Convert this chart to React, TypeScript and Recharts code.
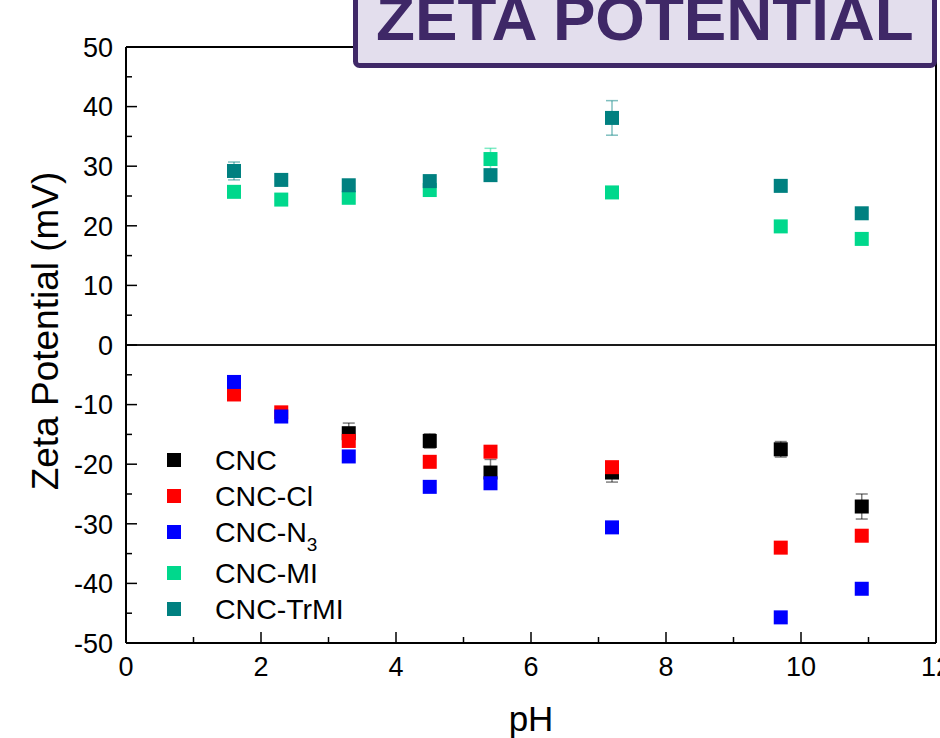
import React from "react";
import { ScatterChart, Scatter, XAxis, YAxis, ErrorBar, ReferenceLine } from "recharts";

// pH values for each sample
const phAll = [1.6, 2.3, 3.3, 4.5, 5.4, 7.2, 9.7, 10.9];
const phCnc = [3.3, 4.5, 5.4, 7.2, 9.7, 10.9];

// zeta potential (mV) and standard deviation
const cnc = [-14.8, -16.1, -21.4, -21.4, -17.5, -27.1];
const cncErr = [1.7, 1.2, 2.2, 1.6, 1.3, 2.1];
const cncCl = [-8.3, -11.3, -16.1, -19.6, -17.9, -20.5, -34.0, -32.0];
const cncN3 = [-6.2, -12.0, -18.7, -23.8, -23.2, -30.6, -45.7, -40.9];
const cncMI = [25.7, 24.4, 24.7, 26.0, 31.2, 25.6, 19.9, 17.8];
const cncMIErr = [null, null, null, null, 1.8, null, null, null];
const cncTrMI = [29.2, 27.7, 26.8, 27.5, 28.5, 38.1, 26.7, 22.1];
const cncTrMIErr = [1.5, null, null, null, null, 2.9, null, null];

const xTicks = [0, 1, 2, 3, 4, 5, 6, 7, 8, 9, 10, 11, 12];
const yTicks = [-50, -45, -40, -35, -30, -25, -20, -15, -10, -5, 0, 5, 10, 15, 20, 25, 30, 35, 40, 45, 50];

const FONT = "'Liberation Sans', Arial, sans-serif";
const MARKER = 14;

type Row = { x: number; y: number; e: number | null };

function rows(xs: number[], ys: number[], errs?: (number | null)[]): Row[] {
  return xs.map((x, i) => ({ x, y: ys[i], e: errs ? errs[i] : null }));
}

const series = [
  { key: "CNC", label: "CNC", color: "#000000", data: rows(phCnc, cnc, cncErr) },
  { key: "CNC-Cl", label: "CNC-Cl", color: "#ff0000", data: rows(phAll, cncCl) },
  { key: "CNC-N3", label: "CNC-N", sub: "3", color: "#0000ff", data: rows(phAll, cncN3) },
  { key: "CNC-MI", label: "CNC-MI", color: "#00d88c", data: rows(phAll, cncMI, cncMIErr) },
  { key: "CNC-TrMI", label: "CNC-TrMI", color: "#008080", data: rows(phAll, cncTrMI, cncTrMIErr) },
];

function BottomTick({ x, y, payload }: any) {
  const major = payload.value % 2 === 0;
  return (
    <g>
      <line x1={x} x2={x} y1={y} y2={y - (major ? 11 : 6)} stroke="#000" strokeWidth={1.5} />
      {major && (
        <text x={x} y={y + 33} textAnchor="middle" fontSize={27} fontFamily={FONT} fill="#000">
          {payload.value}
        </text>
      )}
    </g>
  );
}

function LeftTick({ x, y, payload }: any) {
  const major = payload.value % 10 === 0;
  return (
    <g>
      <line x1={x} x2={x + (major ? 11 : 6)} y1={y} y2={y} stroke="#000" strokeWidth={1.5} />
      {major && (
        <text x={x - 13} y={y} dy="0.36em" textAnchor="end" fontSize={27} fontFamily={FONT} fill="#000">
          {payload.value}
        </text>
      )}
    </g>
  );
}

function RightTick({ x, y, payload }: any) {
  const major = payload.value % 10 === 0;
  return <line x1={x} x2={x - (major ? 11 : 6)} y1={y} y2={y} stroke="#000" strokeWidth={1.5} />;
}

function squareShape(color: string) {
  return (p: any) => (
    <rect x={p.cx - MARKER / 2} y={p.cy - MARKER / 2} width={MARKER} height={MARKER} fill={color} />
  );
}

export default function App() {
  return (
    <div
      style={{
        position: "absolute",
        left: 0,
        top: 0,
        width: 940,
        height: 738,
        overflow: "hidden",
        background: "#fff",
        fontFamily: FONT,
      }}
    >
      <ScatterChart width={940} height={738} margin={{ top: 47, right: 0, bottom: 0, left: 0 }}>
        <XAxis
          type="number"
          dataKey="x"
          domain={[0, 12]}
          ticks={xTicks}
          interval={0}
          height={95}
          tickSize={0}
          tickMargin={0}
          tick={<BottomTick />}
          axisLine={{ stroke: "#000", strokeWidth: 2 }}
          tickLine={false}
        />
        <YAxis
          yAxisId="left"
          type="number"
          dataKey="y"
          domain={[-50, 50]}
          ticks={yTicks}
          interval={0}
          width={126}
          tickSize={0}
          tickMargin={0}
          tick={<LeftTick />}
          axisLine={{ stroke: "#000", strokeWidth: 2 }}
          tickLine={false}
        />
        <YAxis
          yAxisId="right"
          orientation="right"
          type="number"
          domain={[-50, 50]}
          ticks={yTicks}
          interval={0}
          width={4}
          tickSize={0}
          tickMargin={0}
          tick={<RightTick />}
          axisLine={{ stroke: "#000", strokeWidth: 2 }}
          tickLine={false}
        />
        <ReferenceLine yAxisId="left" y={50} stroke="#000" strokeWidth={2} />
        <ReferenceLine yAxisId="left" y={0} stroke="#1a1a1a" strokeWidth={2} />
        {series.map((s) => (
          <Scatter
            key={s.key}
            name={s.key}
            yAxisId="left"
            data={s.data}
            fill={s.color}
            shape={squareShape(s.color)}
            isAnimationActive={false}
          >
            <ErrorBar dataKey="e" direction="y" width={6} stroke={s.color} strokeOpacity={0.5} strokeWidth={1.5} />
          </Scatter>
        ))}
      </ScatterChart>

      {/* legend */}
      <div style={{ position: "absolute", left: 167, top: 442 }}>
        {series.map((s) => (
          <div
            key={s.key}
            style={{
              display: "flex",
              alignItems: "center",
              height: s.sub ? 41 : 36,
              paddingBottom: s.sub ? 5 : 0,
              boxSizing: "border-box",
            }}
          >
            <span style={{ width: 14, height: 14, background: s.color, display: "inline-block" }} />
            <span style={{ marginLeft: 34, fontSize: 28.5, lineHeight: "36px", color: "#000" }}>
              {s.label}
              {s.sub && (
                <span style={{ fontSize: 19, position: "relative", top: 9, lineHeight: 0 }}>{s.sub}</span>
              )}
            </span>
          </div>
        ))}
      </div>

      {/* title box and axis titles */}
      <svg width={940} height={738} style={{ position: "absolute", left: 0, top: 0, pointerEvents: "none" }}>
        <rect x={355.5} y={-10} width={579} height={75.5} rx={4} fill="#e3deed" stroke="#3f2867" strokeWidth={5} />
        <text x={376} y={40} fontSize={63.7} fontWeight="bold" fontFamily={FONT} fill="#3f2867">
          ZETA POTENTIAL
        </text>
        <text x={531} y={731} textAnchor="middle" fontSize={35} fontFamily={FONT} fill="#000">
          pH
        </text>
        <text
          transform="translate(58,331) rotate(-90)"
          textAnchor="middle"
          fontSize={37}
          fontFamily={FONT}
          fill="#000"
        >
          Zeta Potential (mV)
        </text>
      </svg>
    </div>
  );
}
